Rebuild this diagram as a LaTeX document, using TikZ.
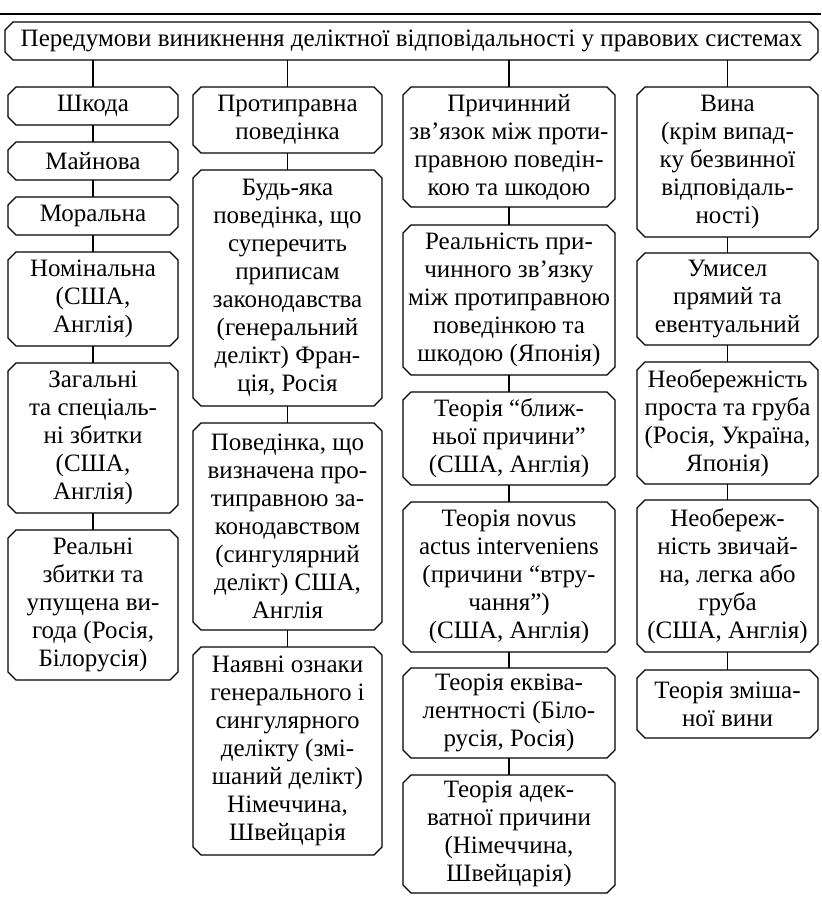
\documentclass[tikz,border=0pt]{standalone}
\usepackage{fontspec}
\setmainfont{Liberation Serif}

\tikzset{
  stage/.style={rectangle, inner sep=0pt, outer sep=0pt, align=center,
    font=\fontsize{12.5}{14}\selectfont},
  colA/.style={minimum width=85pt},
  colB/.style={minimum width=94.5pt},
  colC/.style={minimum width=106pt},
  colD/.style={minimum width=90.5pt},
  frame/.style={draw, line width=0.6pt},
}
\def\cut{4pt}

\begin{document}
\begin{tikzpicture}[x=0.5pt, y=-0.5pt]
        \useasboundingbox (0,0) rectangle (821,897);

        % page rule
        \coordinate (rl) at (0,14);
        \coordinate (rr) at (821,14);
        \draw[line width=1pt] (rl) -- (rr);

        \begin{scope}[every node/.style={stage, anchor=north}]
          \node[minimum width=406.5pt, minimum height=19pt] (t) at (411.5,22)
            {Передумови виникнення деліктної відповідальності у правових системах};

          % шкода
          \node[colA, minimum height=19pt] (d1) at (93,87)  {Шкода};
          \node[colA, minimum height=19pt] (d2) at (93,142) {Майнова};
          \node[colA, minimum height=19pt] (d3) at (93,197) {Моральна};
          \node[colA, minimum height=47pt] (d4) at (93,252) {Номінальна\\(США,\\Англія)};
          \node[colA, minimum height=75pt] (d5) at (93,363) {Загальні\\та спеціаль-\\ні збитки\\(США,\\Англія)};
          \node[colA, minimum height=75pt] (d6) at (93,530) {Реальні\\збитки та\\упущена ви-\\года (Росія,\\Білорусія)};

          % протиправна поведінка
          \node[colB, minimum height=33pt]    (p1) at (287.5,87)  {Протиправна\\поведінка};
          \node[colB, minimum height=118pt]   (p2) at (287.5,170) {Будь-яка\\поведінка, що\\суперечить\\приписам\\законодавства\\(генеральний\\делікт) Фран-\\ція, Росія};
          \node[colB, minimum height=103.5pt] (p3) at (287.5,423) {Поведінка, що\\визначена про-\\типравною за-\\конодавством\\(сингулярний\\делікт) США,\\Англія};
          \node[colB, minimum height=104pt]   (p4) at (287.5,647) {Наявні ознаки\\генерального і\\сингулярного\\делікту (змі-\\шаний делікт)\\Німеччина,\\Швейцарія};

          % причинний зв'язок
          \node[colC, minimum height=60pt]   (c1) at (509,87)  {Причинний\\зв’язок між проти-\\правною  поведін-\\кою та шкодою};
          \node[colC, minimum height=75pt]   (c2) at (509,225) {Реальність при-\\чинного зв’язку\\між протиправною\\поведінкою та\\шкодою (Японія)};
          \node[colC, minimum height=46.5pt] (c3) at (509,392) {Теорія “ближ-\\ньої причини”\\(США, Англія)};
          \node[colC, minimum height=75pt]   (c4) at (509,502) {Теорія novus\\actus interveniens\\(причини “втру-\\чання”)\\(США, Англія)};
          \node[colC, minimum height=45pt]   (c5) at (509,668) {Теорія еквіва-\\лентності (Біло-\\русія, Росія)};
          \node[colC, minimum height=59pt]   (c6) at (509,775) {Теорія адек-\\ватної причини\\(Німеччина,\\Швейцарія)};

          % вина
          \node[colD, minimum height=75pt] (v1) at (727.5,87)  {Вина\\(крім випад-\\ку безвинної\\відповідаль-\\ності)};
          \node[colD, minimum height=46pt] (v2) at (727.5,253) {Умисел\\прямий та\\евентуальний};
          \node[colD, minimum height=61pt] (v3) at (727.5,362) {Необережність\\проста та груба\\(Росія, Україна,\\Японія)};
          \node[colD, minimum height=76pt] (v4) at (727.5,500) {Необереж-\\ність звичай-\\на, легка або\\груба\\(США, Англія)};
          \node[colD, minimum height=34pt] (v5) at (727.5,670) {Теорія зміша-\\ної вини};
        \end{scope}

        % chamfered frames
        \foreach \n in {t,d1,d2,d3,d4,d5,d6,p1,p2,p3,p4,c1,c2,c3,c4,c5,c6,v1,v2,v3,v4,v5}
          \draw[frame] ([xshift=\cut]\n.north west) -- ([xshift=-\cut]\n.north east)
            -- ([yshift=-\cut]\n.north east) -- ([yshift=\cut]\n.south east)
            -- ([xshift=-\cut]\n.south east) -- ([xshift=\cut]\n.south west)
            -- ([yshift=\cut]\n.south west) -- ([yshift=-\cut]\n.north west) -- cycle;

        \begin{scope}[every path/.style={frame}]
          \foreach \a in {d1,p1,c1,v1}
            \path (t.south -| \a) edge (\a);
          \path (d1) edge (d2) (d2) edge (d3) (d3) edge (d4) (d4) edge (d5) (d5) edge (d6);
          \path (p1) edge (p2) (p2) edge (p3) (p3) edge (p4);
          \path (c1) edge (c2) (c2) edge (c3) (c3) edge (c4) (c4) edge (c5) (c5) edge (c6);
          \path (v1) edge (v2) (v2) edge (v3) (v3) edge (v4) (v4) edge (v5);
        \end{scope}

      \end{tikzpicture}
\end{document}
